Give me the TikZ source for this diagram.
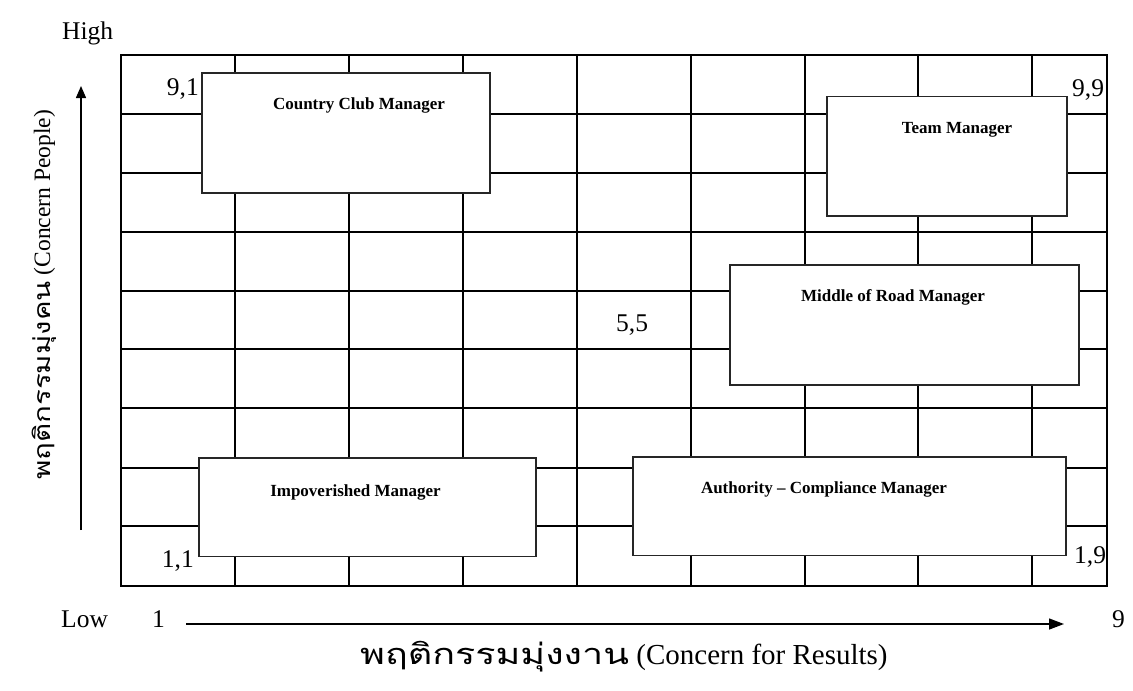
\documentclass[tikz,border=0pt]{standalone}
\usepackage{fontspec}
\usepackage{graphicx}
\setmainfont{Liberation Serif}
\newfontfamily\thaifont[Script=Thai]{Loma}
\usetikzlibrary{arrows.meta}
\begin{document}
\begin{tikzpicture}[x=1pt,y=-1pt,
  gridline/.style={line width=2pt, black},
  mgrbox/.style={draw=black!85, line width=1.6pt, fill=white},
  mgrlabel/.style={font=\fontsize{17}{20}\selectfont\bfseries, anchor=base, inner sep=0pt},
  coordlabel/.style={font=\fontsize{25.5}{30}\selectfont, inner sep=0pt},
  axislabel/.style={font=\fontsize{25.5}{30}\selectfont, inner sep=0pt},
  axisarrow/.style={line width=1.4pt, -{Triangle[length=15pt,width=11pt]}}]
\useasboundingbox (0,0) rectangle (1133,691);
% grid
\draw[gridline] (121,55) rectangle (1107,586);
\foreach \gx in {235,349,463,577,691,805,918,1032}
  \draw[gridline] (\gx,55) -- (\gx,586);
\foreach \gy in {113.7,173,231.7,291,349.3,408,468,526}
  \draw[gridline] (121,\gy) -- (1107,\gy);
% manager boxes
\draw[mgrbox] (202,73) rectangle (490,193);
\node[mgrlabel] (cc) at (359,109) {Country Club Manager};
\draw[mgrbox] (827,96.5) rectangle (1067,216);
\node[mgrlabel] (tm) at (957,133) {Team Manager};
\draw[mgrbox] (730,265) rectangle (1079,385);
\node[mgrlabel] (mr) at (893,301.5) {Middle of Road Manager};
\draw[mgrbox] (199,458) rectangle (536,556.5);
\node[mgrlabel] (im) at (355.5,496) {Impoverished Manager};
\draw[mgrbox] (633,457) rectangle (1066,555.5);
\node[mgrlabel] (ac) at (824,493) {Authority -- Compliance Manager};
% coordinates
\node[coordlabel, anchor=base east] (c91) at (199,95) {9,1};
\node[coordlabel, anchor=base west] (c99) at (1072,96.5) {9,9};
\node[coordlabel, anchor=base east] (c11) at (194,567) {1,1};
\node[coordlabel, anchor=base west] (c19) at (1074,563) {1,9};
\node[coordlabel, anchor=base west] (c55) at (616,331.5) {5,5};
% axis labels
\node[axislabel, anchor=base west] (high) at (62,39) {High};
\node[axislabel, anchor=base west] (low) at (61,627) {Low};
\node[axislabel, anchor=base west] (one) at (152,627) {1};
\node[axislabel, anchor=base west] (nine) at (1112,627) {9};
% arrows
\coordinate (hs) at (186,624);
\coordinate (he) at (1064,624);
\draw[axisarrow] (hs) -- (he);
\coordinate (vs) at (81,530);
\coordinate (ve) at (81,86);
\draw[axisarrow, -{Triangle[length=12pt,width=10pt]}] (vs) -- (ve);
% axis titles
\node[inner sep=0pt, anchor=base west, font=\fontsize{29}{34}\selectfont] (xt) at (360,664)
  {\scalebox{1.3}[1]{\thaifont\fontsize{29}{34}\selectfont พฤติกรรมมุ่งงาน} (Concern for Results)};
\node[inner sep=0pt, anchor=base west, rotate=90, font=\fontsize{23.5}{28}\selectfont] (yt) at (50,480)
  {\scalebox{1.28}[1]{\thaifont\fontsize{23}{28}\selectfont พฤติกรรมมุ่งคน} (Concern People)};
\end{tikzpicture}
\end{document}
